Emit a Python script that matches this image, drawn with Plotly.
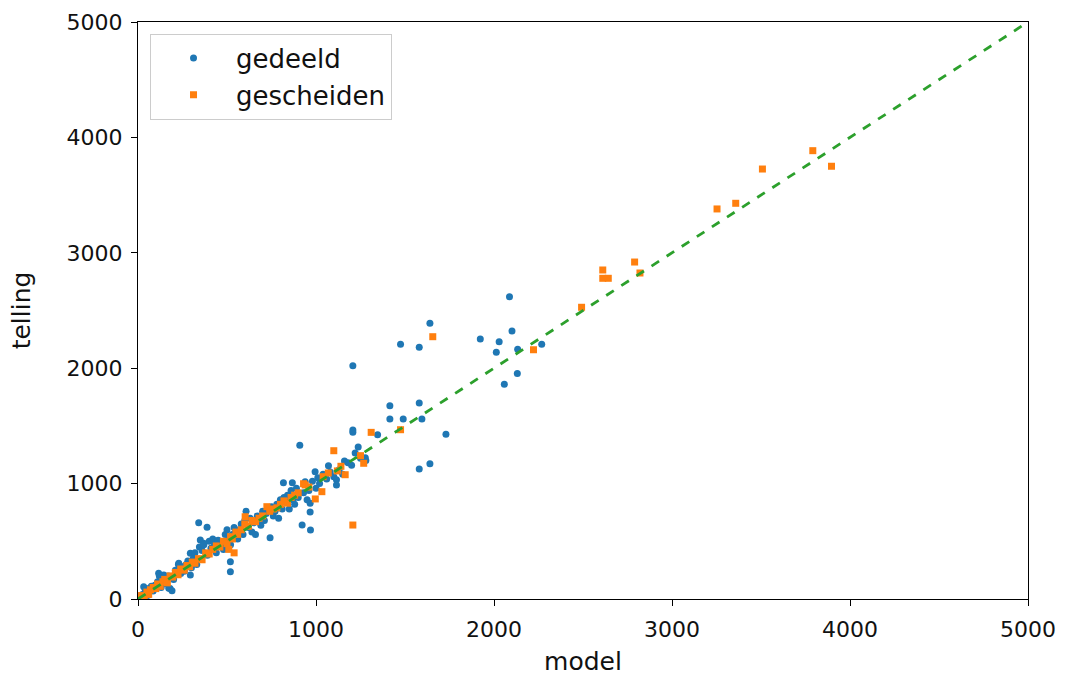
import plotly.graph_objects as go

# gedeeld (blue) points: model, telling
gedeeld_model = [10, 25, 32, 40, 55, 60, 75, 85, 95, 110, 116, 120, 130, 140, 145, 150, 160, 170, 173, 180, 191,
                 200, 210, 227, 229, 240, 250, 260, 270, 280, 294, 294, 300, 310, 320, 330, 341, 345, 350, 360,
                 369, 370, 388, 390, 400, 410, 420, 430, 440, 450, 460, 470, 480, 490, 500, 510, 519, 519, 520,
                 530, 540, 550, 560, 570, 580, 590, 600, 607, 620, 630, 640, 650, 660, 670, 680, 690, 700, 710,
                 720, 742, 750, 760, 770, 780, 790, 800, 810, 817, 820, 830, 840, 850, 860, 867, 870, 880, 890,
                 900, 909, 922, 930, 939, 950, 960, 967, 967, 969, 980, 995, 1000, 1010, 1020, 1040, 1060, 1070,
                 1080, 1100, 1115, 1115, 1130, 1150, 1160, 1180, 1200, 1207, 1207, 1207, 1220, 1237, 1250, 1277,
                 1280, 1346, 1415, 1415, 1475, 1490, 1580, 1580, 1595, 1580, 1640, 1640, 1730, 1923, 2029, 2013,
                 2058, 2087, 2101, 2133, 2131, 2268]
gedeeld_telling = [20, 40, 107, 60, 30, 90, 110, 70, 120, 150, 223, 200, 100, 160, 208, 200, 130, 200, 93, 90, 72,
                   170, 250, 300, 309, 220, 280, 240, 300, 330, 396, 208, 270, 350, 400, 300, 661, 450, 511, 420,
                   483, 470, 621, 380, 500, 440, 520, 470, 400, 510, 480, 480, 430, 560, 600, 530, 323, 237, 470,
                   560, 620, 580, 520, 600, 650, 560, 680, 760, 620, 700, 580, 660, 560, 720, 700, 640, 760, 680,
                   740, 531, 800, 720, 760, 820, 700, 860, 780, 1008, 880, 840, 900, 780, 940, 1008, 860, 820, 960,
                   880, 1332, 641, 920, 1017, 860, 940, 829, 754, 598, 1020, 1103, 960, 1050, 1000, 1080, 1040, 1155,
                   1100, 1060, 1034, 988, 1120, 1080, 1196, 1180, 1160, 1464, 1444, 2022, 1265, 1317, 1220, 1224,
                   1200, 1424, 1675, 1560, 2207, 1560, 2181, 1698, 1560, 1127, 2389, 1172, 1427, 2253, 2230, 2138,
                   1860, 2620, 2322, 2164, 1953, 2207]

# gescheiden (orange) points: model, telling
gescheiden_model = [10, 20, 35, 50, 60, 70, 85, 100, 110, 125, 140, 150, 165, 180, 195, 210, 225, 240, 260, 275,
                    290, 305, 320, 340, 360, 380, 400, 420, 440, 460, 480, 500, 510, 520, 530, 540, 550, 560, 580,
                    600, 602, 620, 640, 660, 680, 700, 724, 740, 760, 780, 800, 820, 840, 860, 880, 900, 930, 939,
                    960, 996, 1033, 1040, 1069, 1100, 1120, 1140, 1164, 1207, 1250, 1268, 1310, 1475, 1656, 2222,
                    2492, 2611, 2611, 2642, 2790, 2820, 3253, 3358, 3508, 3791, 3896]
gescheiden_telling = [10, 30, 20, 60, 40, 80, 100, 90, 130, 110, 150, 170, 140, 200, 190, 230, 210, 260, 250, 290,
                      280, 320, 310, 350, 340, 400, 390, 430, 460, 450, 500, 480, 430, 540, 520, 400, 580, 560, 600,
                      650, 713, 630, 680, 670, 700, 720, 800, 760, 780, 790, 820, 850, 830, 880, 900, 920, 999, 988,
                      970, 867, 930, 1060, 1092, 1285, 1110, 1150, 1077, 641, 1242, 1176, 1444, 1467, 2273, 2160,
                      2528, 2851, 2779, 2779, 2920, 2825, 3380, 3429, 3726, 3885, 3750]

# reference line
line_x = [0, 5000]
line_y = [0, 5000]

font = "DejaVu Sans, Liberation Sans, sans-serif"

fig = go.Figure()
fig.add_trace(go.Scatter(x=gedeeld_model, y=gedeeld_telling, mode="markers", name="gedeeld",
                         marker=dict(symbol="circle", size=7, color="#1f77b4", line=dict(width=0))))
fig.add_trace(go.Scatter(x=gescheiden_model, y=gescheiden_telling, mode="markers", name="gescheiden",
                         marker=dict(symbol="square", size=7, color="#ff7f0e", line=dict(width=0))))
fig.add_trace(go.Scatter(x=line_x, y=line_y, mode="lines", showlegend=False,
                         line=dict(color="#2ca02c", width=2.8, dash="dash")))

axis_common = dict(showgrid=False, zeroline=False, showline=True, linecolor="black", linewidth=1.3,
                   mirror=True, ticks="outside", ticklen=6, tickcolor="black", tickwidth=1.3,
                   tickfont=dict(family=font, size=22, color="#111111"), range=[0, 5000],
                   tickvals=[0, 1000, 2000, 3000, 4000, 5000], ticklabelstandoff=4, automargin=False)

fig.update_layout(
    width=1065, height=679,
    margin=dict(l=138, r=37, t=22, b=80),
    paper_bgcolor="white", plot_bgcolor="white",
    font=dict(family=font, color="#111111"),
    xaxis=dict(**axis_common, title=dict(text="model", font=dict(family=font, size=25), standoff=11)),
    yaxis=dict(**axis_common, title=dict(text="telling", font=dict(family=font, size=25), standoff=28)),
    legend=dict(x=0.0135, y=0.98, xanchor="left", yanchor="top", bordercolor="#cccccc", borderwidth=1,
                bgcolor="white", font=dict(family=font, size=26, color="#111111"), itemwidth=75,
                tracegroupgap=0),
    showlegend=True,
)

fig.write_html("out.html")
